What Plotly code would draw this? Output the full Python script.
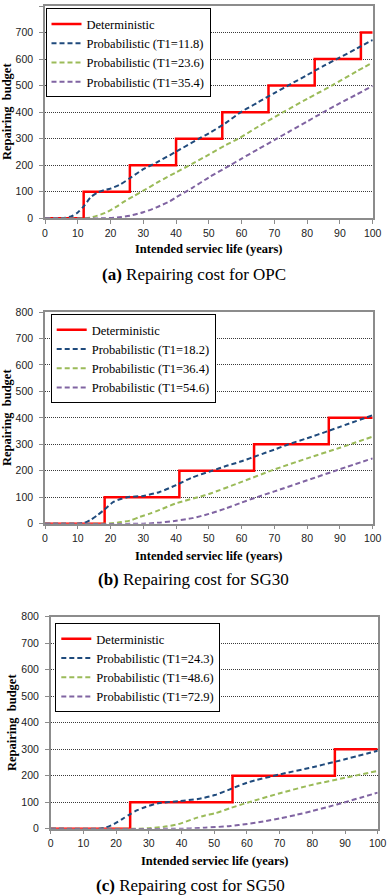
import plotly.graph_objects as go

# ---------------- data ----------------
# (a) OPC
det_a_x = [0, 11.8, 25.9, 40.0, 54.1, 68.2, 82.3, 96.4, 100]
det_a_y = [0, 100, 200, 300, 400, 500, 600, 700, 700]
pa1_x = [0, 5, 8, 10, 12, 14, 16, 18, 20, 23, 26, 30, 34, 40, 47, 50, 55, 60, 65, 70, 75, 80, 85, 90, 95, 100]
pa1_y = [0, 0, 7, 22, 48, 80, 97, 106, 112, 128, 152, 185, 210, 251, 300, 320, 358, 402, 437, 472, 506, 540, 574, 606, 639, 672]
pa2_x = [0, 12, 14, 16, 19, 22, 24, 27, 30, 35, 40, 45, 50, 55, 59, 65, 72.7, 80, 87.5, 95, 100]
pa2_y = [0, 0, 3, 10, 24, 45, 62, 83, 104, 140, 173, 206, 240, 275, 300, 345, 400, 450, 500, 553, 587]
pa3_x = [0, 18, 22, 26, 30, 34, 38, 40, 45, 50, 56.5, 60, 65, 70.7, 75, 80, 85, 90, 95, 100]
pa3_y = [0, 0, 3, 10, 23, 41, 64, 79, 115, 154, 200, 225, 260, 300, 330, 365, 400, 434, 466, 499]

# (b) SG30
det_b_x = [0, 18.2, 41.0, 63.8, 86.6, 100]
det_b_y = [0, 100, 200, 300, 400, 400]
pb1_x = [0, 9.7, 12, 14, 16, 18, 21, 25, 30, 35, 40, 45, 51, 55, 60, 65, 70, 74.3, 80, 86.6, 90, 100]
pb1_y = [0, 0, 3, 15, 32, 52, 83, 100, 105, 120, 146, 175, 200, 217, 236, 258, 280, 300, 323, 351, 366, 410]
pb2_x = [0, 18, 22, 26, 29, 32, 35, 40, 47.3, 50, 60, 70, 80, 90, 100]
pb2_y = [0, 0, 4, 12, 26, 38, 52, 77, 102, 112, 158, 205, 247, 287, 329]
pb3_x = [0, 30, 35, 40, 45, 50, 55, 60, 64.6, 70, 80, 90, 100]
pb3_y = [0, 0, 4, 11, 21, 37, 57, 80, 100, 122, 164, 206, 247]

# (c) SG50
det_c_x = [0, 24.3, 55.6, 86.9, 100]
det_c_y = [0, 100, 200, 300, 300]
pc1_x = [0, 15.1, 17, 19.7, 22, 24.3, 26.5, 28.8, 32.9, 39, 45, 50.2, 55.5, 60.1, 70.1, 80.1, 87, 90, 100]
pc1_y = [0, 0, 5, 20, 37, 55, 70, 81, 96, 104, 112, 127, 152, 174, 205, 232, 253, 262, 294]
pc2_x = [0, 27, 30, 35, 39, 44.1, 47.2, 50.2, 55, 60.1, 70.1, 80.1, 90, 100]
pc2_y = [0, 0, 2, 8, 17, 39, 50, 58, 78, 98, 134, 166, 192, 218]
pc3_x = [0, 40, 47.2, 55, 60.1, 65, 70.1, 75, 80.1, 85, 90, 95, 100]
pc3_y = [0, 0, 4, 10, 18, 27, 39, 52, 67, 83, 100, 118, 136]

names_a = ["Deterministic", "Probabilistic (T1=11.8)", "Probabilistic (T1=23.6)", "Probabilistic (T1=35.4)"]
names_b = ["Deterministic", "Probabilistic (T1=18.2)", "Probabilistic (T1=36.4)", "Probabilistic (T1=54.6)"]
names_c = ["Deterministic", "Probabilistic (T1=24.3)", "Probabilistic (T1=48.6)", "Probabilistic (T1=72.9)"]
captions = [("(a)", "Repairing cost for OPC"), ("(b)", "Repairing cost for SG30"), ("(c)", "Repairing cost for SG50")]
x_ticks = list(range(0, 101, 10))
y_ticks = list(range(0, 801, 100))
x_title = "Intended serviec life (years)"
y_title = "Repairing  budget"

# ---------------- styling ----------------
W, H = 388, 896
SERIF = "Liberation Serif"
SANS = "Liberation Sans"
RED = "#FF0000"
BLUE = "#1F4A7C"
GREEN = "#9BBB59"
PURPLE = "#8064A2"


def fx(px):
    return px / W


def fy(py):
    return 1 - py / H


panels = [
    dict(det=(det_a_x, det_a_y), probs=[(pa1_x, pa1_y), (pa2_x, pa2_y), (pa3_x, pa3_y)], names=names_a,
         px=(45, 372.7), py=(6, 218.3), leg=(45.5, 8.3), ytl=(7, 112), xtl=(209, 249), cap=(193.7, 274)),
    dict(det=(det_b_x, det_b_y), probs=[(pb1_x, pb1_y), (pb2_x, pb2_y), (pb3_x, pb3_y)], names=names_b,
         px=(45, 372.7), py=(312, 523.7), leg=(50.7, 314), ytl=(7, 418), xtl=(209, 556), cap=(193.7, 579)),
    dict(det=(det_c_x, det_c_y), probs=[(pc1_x, pc1_y), (pc2_x, pc2_y), (pc3_x, pc3_y)], names=names_c,
         px=(50.7, 377.7), py=(616.7, 828.7), leg=(55.3, 623), ytl=(12, 723), xtl=(214.5, 861), cap=(190, 885)),
]

fig = go.Figure()
annotations = []
layout = dict(width=W, height=H, margin=dict(l=0, r=0, t=0, b=0, autoexpand=False),
              paper_bgcolor="white", plot_bgcolor="white", showlegend=True)

for i, p in enumerate(panels):
    sfx = "" if i == 0 else str(i + 1)
    xa, ya = "x" + sfx, "y" + sfx
    leg = "legend" + sfx
    colors = [BLUE, GREEN, PURPLE]
    fig.add_trace(go.Scatter(x=p["det"][0], y=p["det"][1], mode="lines", name=p["names"][0],
                             line=dict(color=RED, width=2.5, shape="hv"),
                             xaxis=xa, yaxis=ya, legend=leg))
    for (px_, py_), c, nm in zip(p["probs"], colors, p["names"][1:]):
        fig.add_trace(go.Scatter(x=px_, y=py_, mode="lines", name=nm,
                                 line=dict(color=c, width=2, dash="5px,3px", shape="spline", smoothing=0.7),
                                 xaxis=xa, yaxis=ya, legend=leg))
    x0, x1 = p["px"]
    y0, y1 = p["py"]
    layout["xaxis" + sfx] = dict(domain=[fx(x0), fx(x1)], range=[0, 100], tickvals=x_ticks,
                                 showgrid=False, zeroline=False, showline=True, mirror=True,
                                 linecolor="#8C8C8C", linewidth=1.5, ticks="outside", ticklen=4,
                                 tickcolor="#8C8C8C", tickfont=dict(family=SANS, size=10.5, color="#222"),
                                 anchor=ya, fixedrange=True, automargin=False)
    layout["yaxis" + sfx] = dict(domain=[fy(y1), fy(y0)], range=[0, 800], tickvals=y_ticks,
                                 showgrid=True, gridcolor="#3a3a3a", gridwidth=1, griddash="1px,1px",
                                 zeroline=False, showline=True, mirror=True,
                                 linecolor="#8C8C8C", linewidth=1.5, ticks="outside", ticklen=4,
                                 tickcolor="#8C8C8C", tickfont=dict(family=SANS, size=10.5, color="#222"),
                                 ticklabelstandoff=4, anchor=xa, fixedrange=True, automargin=False)
    lx, ly = p["leg"]
    layout[leg] = dict(x=fx(lx), y=fy(ly), xanchor="left", yanchor="top", xref="paper", yref="paper",
                       bgcolor="white", bordercolor="black", borderwidth=1,
                       font=dict(family=SERIF, size=12.5, color="black"), itemwidth=30,
                       tracegroupgap=0)
    annotations.append(dict(x=fx(p["ytl"][0]), y=fy(p["ytl"][1]), xref="paper", yref="paper",
                            text="<b>" + y_title + "</b>", textangle=-90, showarrow=False,
                            font=dict(family=SERIF, size=12.5, color="black"), xanchor="center", yanchor="middle"))
    annotations.append(dict(x=fx(p["xtl"][0]), y=fy(p["xtl"][1]), xref="paper", yref="paper",
                            text="<b>" + x_title + "</b>", showarrow=False,
                            font=dict(family=SERIF, size=12.5, color="black"), xanchor="center", yanchor="middle"))
    tag, cap = captions[i]
    annotations.append(dict(x=fx(p["cap"][0]), y=fy(p["cap"][1]), xref="paper", yref="paper",
                            text="<b>" + tag + "</b> " + cap, showarrow=False,
                            font=dict(family=SERIF, size=17, color="black"), xanchor="center", yanchor="middle"))

layout["annotations"] = annotations
fig.update_layout(**layout)
# the page's default 8px body margin would shift the chart; remove it
fig.write_html("out.html", config={"displayModeBar": False},
               post_script="document.body.style.margin='0px';document.body.style.overflow='hidden';")
